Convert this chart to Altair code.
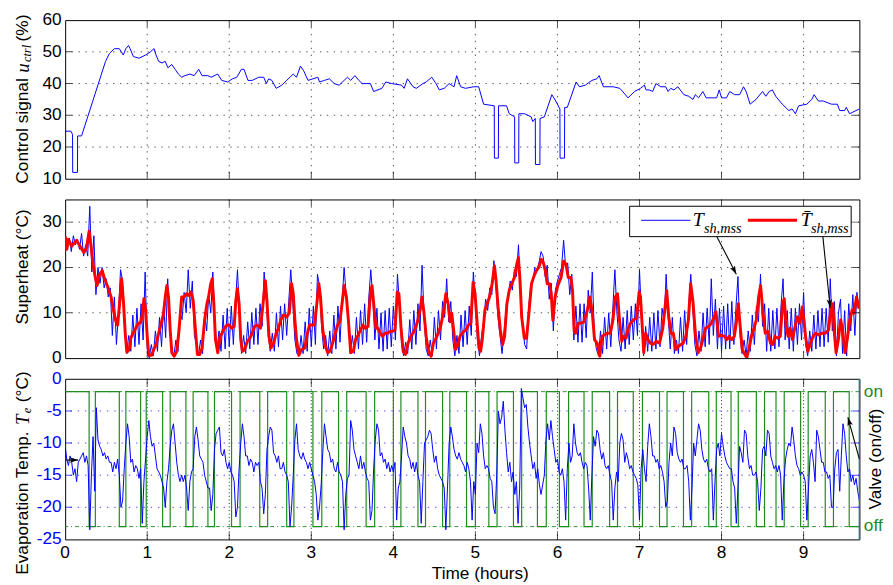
import altair as alt
import pandas as pd

# ---------------- data ----------------
hour_ticks = [0, 1, 2, 3, 4, 5, 6, 7, 8, 9]
u_ticks = [10, 20, 30, 40, 50, 60]
sh_ticks = [0, 10, 20, 30]
te_ticks = [-25, -20, -15, -10, -5, 0]
X_MAX = 9.68

# control signal u_ctrl (%)  (t [h], value)
u_pts = [(0,25),(0.07,25),(0.09,24),(0.092,12),(0.15,12),(0.152,23.5),(0.2,23.5),(0.492,47),(0.54,49.5),(0.6,51),
 (0.66,51),(0.708,49),(0.74,51),(0.772,52),(0.792,51),(0.832,48.5),(0.9,48),(0.98,49),(1.04,50),(1.06,50.5),
 (1.084,51),(1.108,49),(1.14,47),(1.18,46.5),(1.22,47),(1.252,45),(1.3,46),(1.34,44.5),(1.38,43),(1.42,42),
 (1.46,42.5),(1.52,43),(1.572,42.5),(1.628,44.5),(1.668,42.5),(1.74,42.5),(1.78,42),(1.86,43),(1.908,41),(1.98,40.5),
 (2.04,41.5),(2.092,42),(2.148,44.5),(2.18,44.5),(2.228,41),(2.28,41),(2.36,42),(2.42,42),(2.452,40),(2.48,41.5),
 (2.52,41),(2.572,38.5),(2.64,39.5),(2.7,41),(2.78,43),(2.82,42),(2.868,45.5),(2.908,44),(2.96,41),(3.02,41.5),
 (3.08,42),(3.1,40.5),(3.16,41),(3.22,41.5),(3.28,40),(3.34,39.5),(3.4,41),(3.44,42),(3.48,41),(3.532,42.5),
 (3.58,41),(3.62,40),(3.72,40),(3.76,37.5),(3.86,38.5),(3.908,40.5),(3.98,40),(4.1,39.5),(4.132,38.5),(4.172,41.5),
 (4.24,39),(4.28,38.5),(4.36,40),(4.4,40.5),(4.468,42),(4.52,40),(4.56,38),(4.62,38.5),(4.68,40),(4.74,39),
 (4.772,42.5),(4.82,39),(4.88,38.5),(4.98,39),(5.04,39),(5.1,33.5),(5.23,33),(5.232,16.5),(5.28,16.5),(5.282,33),
 (5.38,33),(5.412,30.5),(5.478,29.5),(5.48,15),(5.528,15),(5.53,30.5),(5.6,30.5),(5.68,29.5),(5.7,28),(5.73,29),
 (5.732,14.5),(5.786,14.5),(5.788,29),(5.84,29.5),(5.932,36.5),(5.98,34.5),(6.03,32),(6.032,16.5),(6.086,16.5),(6.088,32.5),
 (6.12,32.5),(6.228,40.5),(6.268,39),(6.34,39.5),(6.42,41),(6.48,41.5),(6.508,42.5),(6.56,39),(6.68,39),(6.76,38.5),
 (6.812,37),(6.86,35.5),(6.94,37.5),(7.012,38.5),(7.06,39.5),(7.08,38),(7.12,38),(7.16,37.5),(7.2,40),(7.26,39),
 (7.32,39),(7.348,37.5),(7.38,38.5),(7.42,38),(7.468,39),(7.54,36.5),(7.6,36),(7.652,35),(7.68,36.5),(7.72,35.5),
 (7.772,37.5),(7.812,35.5),(7.94,35.5),(7.972,38),(8.0,35.5),(8.06,35.5),(8.1,37.5),(8.16,36.5),(8.22,36.5),(8.268,39),
 (8.3,37.5),(8.348,33.5),(8.42,35),(8.5,37.5),(8.54,36),(8.58,37.5),(8.62,38),(8.66,36),(8.74,33.5),(8.82,31.5),
 (8.86,32),(8.9,30.5),(8.94,33),(9.04,33.5),(9.1,35),(9.128,36.5),(9.18,34.5),(9.24,34.5),(9.34,33.5),(9.412,33.5),
 (9.44,31.5),(9.5,31.5),(9.52,32.5),(9.56,30.5),(9.68,32)]

# superheat T_sh,mss (blue), sampled every SH_DT hours
SH_DT = 0.025
sh_v = [27,24,26.5,23.5,27,25,26,24,27.5,22.5,
 25,22.5,33.5,19,27,14,20,16.5,20,15.5,
 17.5,13.5,15.5,5,13.5,3,10,19.5,17,6,
 1,5,1.5,9.5,2.5,11,3,12,4,19,
 2,0,3,0.5,6,1.5,9,2.5,12,4.5,
 17.5,7,2,0.5,4,1.5,10,8.5,14.5,10,
 19.5,11,17,5,3,0.5,4,1,10,6,
 14,10,19,8,1.5,6,1.5,9.5,2,11,
 2.5,11.5,3,12,19.5,10,1,5,1,8,
 2,10,3,11,3,12,7,19,14,5,
 1.5,5.5,1.5,10,2.5,11.5,4,12,5,12.5,
 19.5,12,4,1,0.5,5,1,8,1.5,11,
 2.5,11.5,3,18.5,16,7,2,5,0.5,6,
 1,9.5,2,11.5,3.5,12.5,20,14,9,1,
 5,1,9,2,10.5,3,12,3.5,13,19.5,
 13,4,11,2,10,1.5,10.5,2,11,2.5,
 11.5,4,18.5,12,3,0.5,3.5,1,8.5,2,
 10.5,3,12,6,20.5,9,2,0.5,4,0.5,
 9,2,10.5,4,12.5,9,17.5,8,12.5,4,
 0.5,5,1,9.5,2.5,10.5,3,11.5,5,19,
 12,4,0.5,5,8,13,10.5,15.5,14,21.5,
 16,9,5,1,6,11,14,17,15,19.5,
 18,25,14,8,3,2,11.5,16,17,20,
 19.5,21,23.5,22.5,18,20.5,13,16.5,6,15,
 17,18.5,20,26,20,21,14,18.5,4,11.5,
 3.5,12,3.5,12,4.5,15,10,19,5,2,
 0.5,6,1,9,2,10,2.5,11,19.5,10,
 4,1.5,9,2,10.5,3,11.5,4,12,5,
 19.5,9,0.5,7,1.5,9,1.5,10,2,10.5,
 2.5,11,8,18.5,9,2,9,1,4,1,
 9,1.5,10.5,3,11.5,18.5,11,3,0.5,6,
 1.5,10,2.5,11,3,17.5,5,13,2,11,
 1.5,11.5,2,12,2,12.5,3,11,18,5,
 1,4,0.5,6,1.5,9.5,3,11.5,8,18.5,
 7,12,1.5,11,1.5,10.5,2,11,2.5,11.5,
 17.5,4,10.5,2,11,1.5,11,3,12,4,
 14.5,3,0.5,6,1.5,9.5,2,10.5,2.5,11,
 2.5,11,3.5,17.5,6,12.5,0.5,10,13,1,
 10.5,0.5,12,6,14,5,14.5,11]

# filtered superheat (red)  (t [h], value)
shbar_pts = [(0,26.9),(0.02,24),(0.04,26.2),(0.08,24.7),(0.14,26),(0.18,24.7),(0.228,23.3),(0.26,24.3),(0.292,28),(0.32,24),
 (0.34,20.7),(0.36,18.5),(0.388,16),(0.42,18.5),(0.452,19.3),(0.48,17.5),(0.52,15.7),(0.56,13.5),(0.588,10.6),(0.62,8),
 (0.64,7.3),(0.66,11.3),(0.688,17.5),(0.712,12),(0.732,5.5),(0.752,1.3),(0.78,1.9),(0.8,4.4),(0.828,5.5),(0.86,6.6),
 (0.892,7.7),(0.92,7.8),(0.94,9.5),(0.96,13.1),(0.98,10.9),(1.0,4.8),(1.02,0.6),(1.052,0.6),(1.08,1.9),(1.108,3),
 (1.14,5.5),(1.172,7.7),(1.2,9.9),(1.22,13.5),(1.24,16),(1.26,13.5),(1.28,6.2),(1.3,1.2),(1.328,0.4),(1.36,1.5),
 (1.388,6.2),(1.42,13.5),(1.452,13.5),(1.48,14.2),(1.508,13.8),(1.532,14.6),(1.56,12.8),(1.588,6.2),(1.612,0.8),(1.64,0.8),
 (1.668,2.2),(1.7,8.4),(1.728,12),(1.748,13.5),(1.772,16.2),(1.792,17.5),(1.812,12),(1.832,4.1),(1.86,1.2),(1.888,4.8),
 (1.912,5.5),(1.94,6.6),(1.972,7.3),(2.0,7.3),(2.028,6.6),(2.06,7),(2.08,12.8),(2.1,15.3),(2.12,12),(2.14,4.1),
 (2.16,1.5),(2.188,1.9),(2.22,3.7),(2.252,4.4),(2.28,5.5),(2.308,7),(2.34,7.3),(2.38,6.6),(2.412,12),(2.44,17.1),
 (2.46,12.4),(2.484,4.8),(2.508,2.2),(2.54,3.3),(2.572,5.5),(2.6,6.6),(2.628,8.4),(2.66,9.5),(2.7,9.1),(2.732,9.9),
 (2.76,16.4),(2.78,14.2),(2.8,8.4),(2.82,4.1),(2.848,0.6),(2.88,1.9),(2.92,2.2),(2.948,5.1),(2.98,7.3),(3.012,7.3),
 (3.04,7.3),(3.072,12.8),(3.092,16.4),(3.112,13.5),(3.14,6.2),(3.172,2.6),(3.2,1.2),(3.228,1.5),(3.26,3.3),(3.292,5.5),
 (3.32,7.3),(3.348,8),(3.38,12.8),(3.4,16),(3.428,13.5),(3.452,8.4),(3.48,1.2),(3.512,1.5),(3.54,4.1),(3.572,5.1),
 (3.6,6.2),(3.628,7.3),(3.66,6.6),(3.692,7),(3.72,14.2),(3.74,16),(3.764,11.3),(3.788,6.6),(3.812,6.6),(3.84,5.5),
 (3.868,4.8),(3.9,5.5),(3.932,5.5),(3.96,5.9),(3.988,5.9),(4.02,6.2),(4.048,14.6),(4.068,14.2),(4.092,7),(4.12,1.5),
 (4.148,0.8),(4.18,3.3),(4.212,4.8),(4.24,5.5),(4.268,6.6),(4.3,8.4),(4.328,10.9),(4.348,13.5),(4.372,10.2),(4.4,4.8),
 (4.428,1.5),(4.46,0.4),(4.488,3.3),(4.52,4.4),(4.548,5.5),(4.58,7.3),(4.612,10.2),(4.64,14.2),(4.668,12),(4.692,8),
 (4.712,9.9),(4.732,6.6),(4.76,1.9),(4.788,3),(4.812,4.8),(4.84,5.5),(4.86,5.9),(4.884,6.2),(4.916,7.3),(4.944,7.7),
 (4.972,16.7),(4.996,14.2),(5.024,7),(5.044,2.2),(5.064,1.5),(5.084,4.1),(5.116,10.6),(5.144,12),(5.172,13.5),(5.204,16.4),
 (5.232,20.4),(5.252,17.1),(5.276,11.3),(5.304,6.2),(5.332,3),(5.356,4.8),(5.384,12),(5.412,14.9),(5.444,16.4),(5.476,17.8),
 (5.504,20.7),(5.524,22.2),(5.544,17.1),(5.564,9.1),(5.596,4.4),(5.624,4.4),(5.652,9.9),(5.684,16.4),(5.716,18.2),(5.744,19.3),
 (5.772,20),(5.804,21.8),(5.828,21.1),(5.852,19.3),(5.876,16.4),(5.904,16.4),(5.924,14.2),(5.944,8.4),(5.972,13.5),(6.004,16),
 (6.044,17.8),(6.076,21.4),(6.104,20.7),(6.132,17.8),(6.164,17.8),(6.184,14.9),(6.204,5.9),(6.224,5.5),(6.252,7.7),(6.284,7.7),
 (6.324,8),(6.364,10.6),(6.396,13.5),(6.424,10.2),(6.452,4.1),(6.484,3.3),(6.516,0.4),(6.544,4.8),(6.572,5.1),(6.604,5.5),
 (6.644,5.5),(6.676,8.4),(6.704,13.5),(6.732,14.2),(6.756,8.4),(6.784,3.7),(6.804,4.8),(6.836,4.4),(6.864,6.6),(6.892,7.7),
 (6.924,8.4),(6.964,8.8),(6.996,14.6),(7.012,13.5),(7.036,6.2),(7.052,1.2),(7.076,5.5),(7.104,4.1),(7.132,3.3),(7.164,3),
 (7.204,3.7),(7.244,3.3),(7.284,6.6),(7.316,12),(7.332,14.9),(7.356,9.1),(7.384,5.5),(7.412,5.5),(7.444,1.9),(7.476,2.6),
 (7.504,3),(7.532,3.3),(7.564,4.8),(7.596,8.4),(7.624,16.4),(7.652,12.4),(7.684,4.8),(7.716,1.2),(7.744,2.2),(7.772,4.1),
 (7.804,6.6),(7.844,7),(7.876,7.7),(7.904,8.8),(7.932,10.2),(7.964,4.8),(7.996,5.1),(8.036,4.8),(8.064,4.1),(8.092,4.8),
 (8.124,4.1),(8.156,4.8),(8.184,8.4),(8.204,12),(8.224,7.7),(8.252,1.9),(8.284,0.8),(8.308,0.1),(8.332,1.9),(8.364,4.8),
 (8.396,6.6),(8.424,8.4),(8.452,13.5),(8.476,16),(8.504,10.2),(8.532,5.5),(8.564,5.9),(8.596,3.3),(8.624,3),(8.652,4.8),
 (8.684,4.4),(8.716,4.8),(8.744,12),(8.764,13.1),(8.788,7),(8.812,4.8),(8.836,6.6),(8.864,4.1),(8.892,6.6),(8.924,9.1),
 (8.956,7.7),(8.984,11.3),(9.004,8.4),(9.024,4.8),(9.052,1.5),(9.084,3.3),(9.116,4.8),(9.144,5.5),(9.184,5.1),(9.224,5.5),
 (9.264,5.5),(9.304,6.2),(9.332,10.6),(9.356,12),(9.372,6.2),(9.396,1.2),(9.424,4.1),(9.452,8.4),(9.476,6.2),(9.504,1.2),
 (9.532,4.1),(9.564,8.4),(9.592,10.6),(9.616,9.9),(9.644,13.5),(9.676,10.9)]

# evaporation temperature T_e (blue), sampled every TE_DT hours
TE_DT = 0.02
te_v = [-10.5,-12.5,-13.5,-12,-13,-15,-14,-16,-13,-12.5,
 -12,-11.5,-13,-12,-13.5,-23.5,-15,-9,-17.5,-4.5,
 -9.5,-10.5,-11,-12,-11.5,-12.5,-12,-13,-13,-14.5,
 -13,-14,-12.5,-15,-20,-19,-14,-10,-7,-9,
 -13,-12.5,-14.5,-13.5,-14,-15.5,-14,-22.5,-16,-12.5,
 -9,-6.5,-9,-10.5,-10,-12,-14,-14.5,-15,-16,
 -17,-20,-16,-14,-10.5,-8,-7,-10,-13,-15,
 -16,-15,-16,-15,-17,-20.5,-16,-14.5,-14,-9,
 -7.5,-9.5,-12,-12.5,-13,-15,-16,-17,-17,-20.5,
 -18,-11,-8.5,-8,-7.5,-11.5,-12,-11,-13,-14,
 -13,-14.5,-15,-16,-21.5,-20,-14,-10,-7,-9,
 -12,-12,-13.5,-12.5,-13,-14.5,-13,-13.5,-13,-16,
 -17,-21,-18,-11,-9,-7.5,-8,-11.5,-12,-13,
 -12,-14,-14,-13,-14.5,-15,-16,-23,-20,-15,
 -9.5,-7,-11,-12,-12.5,-11.5,-12.5,-13,-14,-13,
 -14,-15,-16,-18,-22,-20,-16.5,-11.5,-7,-9,
 -11,-11.5,-13,-12.5,-14,-14.5,-13,-14.5,-15,-16,
 -23.5,-18,-15.5,-15,-6.5,-8,-11,-12,-13,-14,
 -12,-14,-13,-14.5,-15.5,-16,-22,-20.5,-14,-9.5,
 -7,-8,-12,-11.5,-13,-12.5,-14,-13,-14.5,-13.5,
 -14.5,-13,-22,-17,-16,-12,-7.5,-9,-10,-12,
 -12.5,-14,-13,-14.5,-13,-15,-16,-22.5,-16,-10,
 -9.5,-9,-8,-8.5,-11,-13,-12,-14,-15,-15.5,
 -16,-17,-23.5,-17,-10,-7.5,-9,-11,-12,-12.5,
 -11.5,-12.5,-13,
 -13.5,-14.5,-13,-14,-16,-22,-16,-18,-10,-11.5,
 -7,-8.5,-12,-14,-13.5,-14,-15.5,-16,-20,-21,
 -15,-5,-7,-6,-3.5,-8,-11.5,-14.5,-13,-16,
 -14.5,-18,-16,-22.5,-17,-1.5,-3,-4.5,-4,-7.5,
 -10,-12,-14,-13,-15.5,-14,-16.5,-18,-16.5,-15,
 -9.5,-7,-9.5,-6.5,-9,-11,-13,-12.5,-14.5,-15,
 -14,-16,-22,-14,-10,-13,-12,-7,-10,-11.5,
 -12,-11.5,-13,-14,-13,-13.5,-17,-22,-15,-9,
 -10.5,-8,-8.5,-11,-12.5,-11.5,-13.5,-14,-13.5,-15,
 -16,-22,-17,-14.5,-16,-10,-8.5,-9.5,-13,-11.5,
 -12.5,-14,-13.5,-14.5,-15,-15.5,-16.5,-22,-14,-11,
 -14,-16,-10.5,-7,-9,-12,-12,-13,-12.5,-14,
 -13.5,-14.5,-16,-20,-19,-13,-10,-12,-7.5,-8.5,
 -11.5,-12.5,-13,-12.5,-14,-14,-13.5,-16,-22,-17,
 -10,-12,-9.5,-7,-8,-11,-12.5,-13,-12.5,-14,
 -14.5,-14,-22,-16,-11,-10,-12,-8.5,-10.5,-12,
 -13,-13.5,-14,-14,-16,-17,-22.5,-17,-10.5,-11.5,
 -13,-8,-8.5,-12,-14,-13.5,-15,-15,-14.5,-16,
 -20.5,-17,-11,-10.5,-12,-8,-8.5,-12,-13,-14,
 -13.5,-14.5,-13.5,-15,-22,-16,-12.5,-11,-10,-10.5,
 -7.5,-9.5,-12,-13.5,-14,-15,-14.5,-15,-16,-22,
 -17,-12,-11,-13,-16,-8,-9,-11,-13,-13,
 -14.5,-14.5,-15.5,-15,-20,-20,-14,-11.5,-11,-17.5,
 -12,-7,-8.5,-12,-14.5,-14,-16,-15,-16.5,-15.5,
 -17.5,-19]

# valve closed (off) intervals  (t_start, t_end) [h]
valve_off = [(0.292,0.368),(0.66,0.74),(0.92,0.988),(1.188,1.28),(1.472,1.56),(1.74,1.82),(2.028,2.132),
 (2.372,2.468),(2.70,2.788),(3.02,3.128),(3.332,3.432),(3.668,3.772),(4.0,4.092),(4.30,4.392),(4.60,4.688),
 (4.892,5.0),(5.164,5.264),(5.464,5.564),(5.756,5.864),(6.024,6.136),(6.324,6.424),(6.636,6.732),(6.924,7.036),
 (7.244,7.336),(7.536,7.636),(7.844,7.936),(8.116,8.204),(8.424,8.524),(8.664,8.764),(8.964,9.056),
 (9.264,9.364),(9.556,9.75)]
valve_states = [0, 1]
valve_labels = ["off", "on"]

# ---------------- styling ----------------
FONT = "Liberation Sans"
SERIF = "Liberation Serif"
FS = 17.5
W = 806
H_TOP, H_MID, H_BOT = 161, 161, 163
BLUE = "#0000ff"
RED = "#ff0000"
GREEN = "#1f8a1f"
GRID = "#555555"
ARROW = "M0,0 L-0.32,1 L0,0.78 L0.32,1 Z"
PX_X = X_MAX / W            # hours per pixel

xsc = alt.Scale(domain=[0, X_MAX], nice=False, zero=False)
ysc_u = alt.Scale(domain=[10, 60], nice=False, zero=False)
ysc_s = alt.Scale(domain=[0, 35], nice=False, zero=False)
ysc_e = alt.Scale(domain=[-25, 0], nice=False, zero=False)
ysc_valve = alt.Scale(domain=[-2 / 21, 23 / 21], nice=False, zero=False)


def X(field="t"):
    return alt.X(f"{field}:Q", scale=xsc, axis=None)


def Y(field, ysc):
    return alt.Y(f"{field}:Q", scale=ysc, axis=None)


def grids(ysc, yvals, xcolor=GRID, ycolor=GRID, xdash=(1.4, 5.6), ydash=(1.4, 5.6)):
    gx = alt.Chart(pd.DataFrame({"t": hour_ticks[1:]})).mark_rule(
        color=xcolor, strokeDash=list(xdash), strokeWidth=1).encode(x=X())
    gy = alt.Chart(pd.DataFrame({"v": yvals})).mark_rule(
        color=ycolor, strokeDash=list(ydash), strokeWidth=1).encode(y=Y("v", ysc))
    return [gx, gy]


def frame_ticks(ysc, ymin, ymax, yvals, xcolor="black", ycolor="black"):
    xt = pd.DataFrame([(t, ymin) for t in hour_ticks[1:]] + [(t, ymax) for t in hour_ticks[1:]],
                      columns=["t", "v"])
    yt = pd.DataFrame([(0, v) for v in yvals] + [(X_MAX, v) for v in yvals], columns=["t", "v"])
    a = alt.Chart(xt).mark_tick(orient="vertical", size=14, thickness=1, color=xcolor, clip=True).encode(
        x=X(), y=Y("v", ysc))
    b = alt.Chart(yt).mark_tick(orient="horizontal", size=14, thickness=1, color=ycolor, clip=True).encode(
        x=X(), y=Y("v", ysc))
    return [a, b]


def label(rows, ysc, **kw):
    df = pd.DataFrame(rows, columns=["t", "v", "s"])
    return alt.Chart(df).mark_text(**kw).encode(x=X(), y=Y("v", ysc), text="s:N")


def ylabels(vals, ysc, color="black"):
    rows = [(-3.5 * PX_X, v, str(v)) for v in vals]
    return label(rows, ysc, font=FONT, fontSize=FS, color=color, align="right", baseline="middle")


def arrows(rows, ysc):
    df = pd.DataFrame(rows, columns=["t1", "v1", "t2", "v2", "a"])
    line = alt.Chart(df).mark_rule(color="black", strokeWidth=1.1).encode(
        x=X("t1"), x2="t2:Q", y=Y("v1", ysc), y2="v2:Q")
    head = alt.Chart(df).mark_point(shape=ARROW, filled=True, color="black", opacity=1, size=300).encode(
        x=X("t2"), y=Y("v2", ysc), angle=alt.Angle("a:Q", scale=None))
    return [line, head]


ROT = dict(angle=270, align="left", baseline="middle")

# ---------------- top panel: control signal ----------------
u_df = pd.DataFrame(u_pts, columns=["t", "u"])
u_line = alt.Chart(u_df).mark_line(color=BLUE, strokeWidth=1, clip=True).encode(x=X(), y=Y("u", ysc_u))
top = alt.layer(
    *grids(ysc_u, u_ticks[1:-1]),
    u_line,
    *frame_ticks(ysc_u, 10, 60, u_ticks[1:-1]),
    ylabels(u_ticks, ysc_u),
    label([(-0.516, 8.46, "Control signal")], ysc_u, font=FONT, fontSize=FS, color="black", **ROT),
    label([(-0.516, 43.4, "u")], ysc_u, font=SERIF, fontStyle="italic", fontSize=19, color="black", **ROT),
    label([(-0.462, 46.8, "ctrl")], ysc_u, font=SERIF, fontStyle="italic", fontSize=12.5, color="black", **ROT),
    label([(-0.516, 53.3, "(%)")], ysc_u, font=FONT, fontSize=FS, color="black", **ROT),
).properties(width=W, height=H_TOP)

# ---------------- middle panel: superheat ----------------
sh_df = pd.DataFrame({"t": [round(i * SH_DT, 4) for i in range(len(sh_v))], "v": sh_v})
shbar_df = pd.DataFrame(shbar_pts, columns=["t", "v"])
sh_line = alt.Chart(sh_df).mark_line(color=BLUE, strokeWidth=1, clip=True).encode(x=X(), y=Y("v", ysc_s))
shbar_line = alt.Chart(shbar_df).mark_line(color=RED, strokeWidth=3, clip=True, strokeJoin="round").encode(
    x=X(), y=Y("v", ysc_s))

leg_box = alt.Chart(pd.DataFrame([(6.88, 9.58, 26.8, 33.5)], columns=["t1", "t2", "v1", "v2"])).mark_rect(
    fill="white", stroke="black", strokeWidth=1).encode(x=X("t1"), x2="t2:Q", y=Y("v1", ysc_s), y2="v2:Q")
leg_lines = alt.Chart(pd.DataFrame([(7.02, 7.62, 30.4, "b"), (8.32, 8.92, 30.4, "r")],
                                   columns=["t1", "t2", "v", "k"])).mark_rule().encode(
    x=X("t1"), x2="t2:Q", y=Y("v", ysc_s),
    color=alt.Color("k:N", scale=alt.Scale(domain=["b", "r"], range=[BLUE, RED]), legend=None),
    strokeWidth=alt.StrokeWidth("k:N", scale=alt.Scale(domain=["b", "r"], range=[1, 3]), legend=None))

mid = alt.layer(
    *grids(ysc_s, sh_ticks[1:]),
    sh_line, shbar_line,
    *frame_ticks(ysc_s, 0, 35, sh_ticks[1:]),
    ylabels(sh_ticks, ysc_s),
    *arrows([(7.943, 26.8, 8.18, 18.5, 152.8), (9.235, 26.8, 9.324, 11.1, 174.2)], ysc_s),
    leg_box, leg_lines,
    label([(7.65, 30.5, "T"), (8.964, 30.5, "T\u0304")], ysc_s, font=SERIF, fontStyle="italic", fontSize=20,
          color="black", align="left", baseline="middle"),
    label([(7.785, 28.5, "sh,mss"), (9.09, 28.5, "sh,mss")], ysc_s, font=SERIF, fontStyle="italic",
          fontSize=14.5, color="black", align="left", baseline="middle"),
    label([(-0.516, 20.1, "Superheat (\u00b0C)")], ysc_s, font=FONT, fontSize=FS, color="black",
          angle=270, align="center", baseline="middle"),
).properties(width=W, height=H_MID)

# ---------------- bottom panel: evaporation temperature + valve ----------------
te_df = pd.DataFrame({"t": [round(i * TE_DT, 4) for i in range(len(te_v))], "v": te_v})
te_line = alt.Chart(te_df).mark_line(color=BLUE, strokeWidth=1, clip=True).encode(x=X(), y=Y("v", ysc_e))

v_rows = [(0.0, 1)]
for a, b in valve_off:
    v_rows += [(a, 1), (a, 0), (b, 0), (b, 1)]
valve_df = pd.DataFrame(v_rows, columns=["t", "valve"])
valve_df["i"] = range(len(valve_df))
valve_line = alt.Chart(valve_df).mark_line(color=GREEN, strokeWidth=1.2, clip=True).encode(
    x=X(), y=Y("valve", ysc_valve), order="i:Q")
valve_grid = alt.Chart(pd.DataFrame({"valve": valve_states})).mark_rule(
    color=GREEN, strokeDash=[4, 3, 1, 3], strokeWidth=1, opacity=0.9).encode(y=Y("valve", ysc_valve))
valve_text = alt.Chart(pd.DataFrame({"t": [X_MAX + 4.5 * PX_X] * 2, "valve": valve_states, "s": valve_labels})).mark_text(
    font=FONT, fontSize=FS, color=GREEN, align="left", baseline="middle").encode(
    x=X(), y=Y("valve", ysc_valve), text="s:N")
valve_title = alt.Chart(pd.DataFrame({"t": [X_MAX + 17 * PX_X], "valve": [0.5], "s": ["Valve (on/off)"]})).mark_text(
    font=FONT, fontSize=FS, color="black", angle=270, align="center", baseline="middle").encode(
    x=X(), y=Y("valve", ysc_valve), text="s:N")
right_edge = alt.Chart(pd.DataFrame({"t": [X_MAX]})).mark_rule(color="#2a7a7a", strokeWidth=1.5).encode(x=X())

bot = alt.layer(
    *grids(ysc_e, te_ticks[1:-1], xcolor="#222222", ycolor="#4a4aff", xdash=(1, 2.6), ydash=(1.4, 6)),
    valve_grid,
    valve_line,
    te_line,
    right_edge,
    *frame_ticks(ysc_e, -25, 0, te_ticks[1:-1], ycolor=BLUE),
    ylabels(te_ticks, ysc_e, color=BLUE),
    label([(t, -27.1, str(t)) for t in hour_ticks], ysc_e, font=FONT, fontSize=FS, color="black",
          align="center", baseline="middle"),
    label([(5.06, -30.4, "Time (hours)")], ysc_e, font=FONT, fontSize=FS, color="black",
          align="center", baseline="middle"),
    *arrows([(0.012, -12.65, 0.16, -12.65, 90), (9.68, -12.5, 9.54, -6.0, 344.5)], ysc_e),
    label([(-0.516, -30.5, "Evaporation Temp.")], ysc_e, font=FONT, fontSize=FS, color="black", **ROT),
    label([(-0.516, -7.2, "T")], ysc_e, font=SERIF, fontStyle="italic", fontSize=19, color="black", **ROT),
    label([(-0.462, -5.35, "e")], ysc_e, font=SERIF, fontStyle="italic", fontSize=12.5, color="black", **ROT),
    label([(-0.516, -3.65, "(\u00b0C)")], ysc_e, font=FONT, fontSize=FS, color="black", **ROT),
    valve_text,
    valve_title,
).resolve_scale(y="independent").properties(width=W, height=H_BOT)

chart = alt.vconcat(top, mid, bot, spacing=21, bounds="flush").configure_view(
    stroke="black", strokeWidth=1).properties(
    padding={"left": 5, "top": -2, "right": 0, "bottom": 0})

chart.save("out.html", embed_options={"renderer": "svg", "actions": False})
